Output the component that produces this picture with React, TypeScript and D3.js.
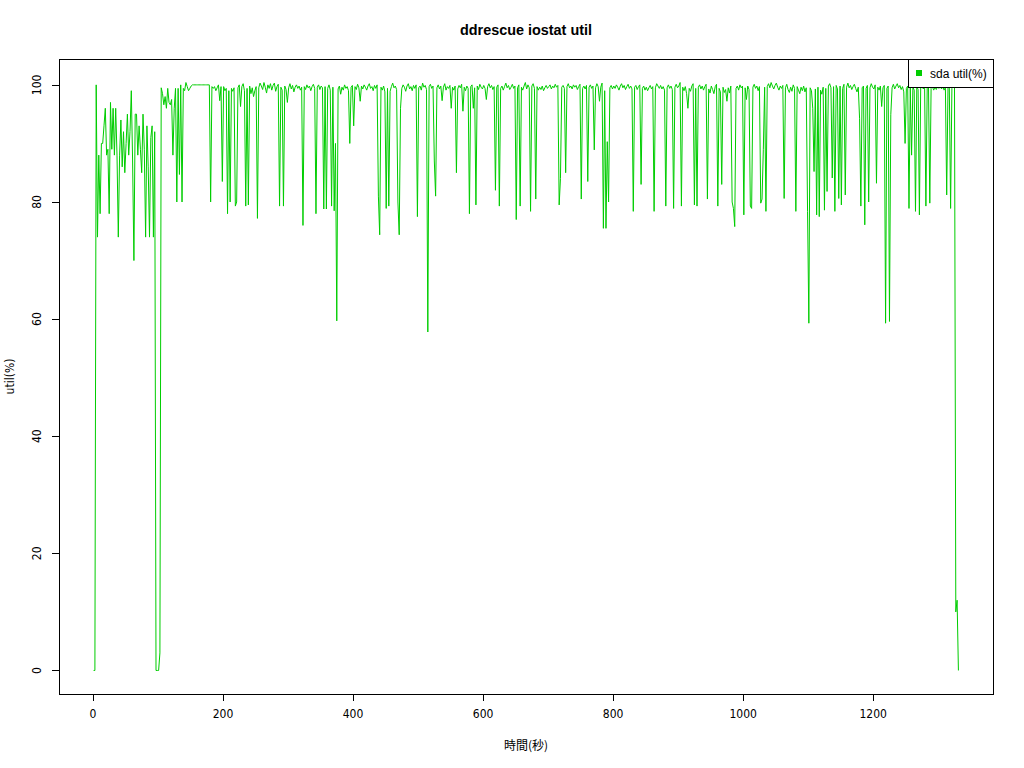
import React from 'react';
import * as d3 from 'd3';

const chartTitle = 'ddrescue iostat util';
const xAxisLabel = '時間(秒)';
const yAxisLabel = 'util(%)';
const legendLabel = 'sda util(%)';
const xTicks = [0, 200, 400, 600, 800, 1000, 1200];
const yTicks = [0, 20, 40, 60, 80, 100];
const firstSecond = 1;
const secondsPerSample = 2;

// util(%) samples, every 2 s, t = 1, 3, 5, ...
const util000 = [0, 0, 100, 74, 88, 78, 90, 90, 93, 96, 88, 89, 78, 97, 89, 96, 88, 96, 88, 74, 88, 94, 86, 92, 85, 90, 95, 88, 92, 99, 87, 70, 95, 95, 88, 93, 89, 85, 95, 89, 74, 93, 86, 74, 91, 93, 74, 92, 0, 0];
const util100 = [0, 3, 99.5, 98.5, 96.6, 98, 96, 99.4, 97, 96.6, 97.5, 88, 96, 99.4, 80, 99.4, 84.7, 100, 80, 99.4, 99, 100.4, 99.7, 99, 99.4, 99.8, 100, 100, 100, 100, 100, 100, 100, 100, 100, 100, 100, 100, 100, 100, 80, 99.7, 99.4, 99.7, 99, 99.5, 100, 97.3, 99.7, 83.5];
const util200 = [99.7, 99, 99.4, 78, 99, 80, 99.4, 98.9, 99.5, 79.3, 80, 99.5, 100, 96.3, 99.7, 100.2, 99, 79.3, 99.4, 79.5, 99.8, 98.5, 99.5, 98, 99, 99.7, 77.2, 99.5, 100.3, 99.8, 99.2, 100.4, 99.6, 98.6, 100, 99.4, 100.2, 99.1, 99.9, 100.3, 98.9, 99.7, 100.1, 79.3, 99.6, 99.1, 79.3, 99.8, 99.2, 97];
const util300 = [99.5, 100.2, 99.3, 99.9, 98.8, 99.6, 100, 99.4, 99.8, 99.1, 99.6, 76, 99.7, 99.2, 100, 99.5, 99.8, 99, 99.7, 100.1, 99.4, 78, 99.6, 100, 99.2, 99.8, 99.5, 78.8, 99.7, 78.8, 99.4, 100, 99.1, 79.3, 99.6, 78.5, 90, 59.7, 99.3, 99.8, 98.4, 99.6, 99.1, 100, 99.4, 99.7, 99, 90, 99.6, 99.9];
const util400 = [93, 99.7, 99.2, 100.1, 99.5, 97.2, 99.8, 99.3, 100, 99.6, 99.1, 99.8, 100.2, 99.4, 99.7, 99, 99.9, 99.4, 100, 81, 74.4, 99.6, 99.1, 99.8, 98.8, 78.9, 99.4, 79.3, 98.9, 99.7, 100.3, 99.5, 99.8, 99.2, 80, 74.4, 96, 99.4, 100, 99.6, 98.9, 99.8, 100.2, 99.3, 99.7, 99, 99.9, 99.4, 100, 77.5];
const util500 = [99.5, 99.8, 99.1, 100.3, 99.6, 99.9, 99.2, 57.8, 99.7, 100.1, 99.4, 99.8, 87, 81, 99.5, 100, 99.3, 99.8, 97.3, 99.6, 100.2, 99.1, 99.7, 99.4, 99.9, 96, 99.6, 99.1, 99.8, 85, 99.3, 99.9, 99.5, 100.1, 95.5, 99.6, 99, 99.8, 99.4, 78, 99.7, 100, 96, 99.5, 79.5, 99.8, 99.2, 100.1, 99.6, 99.3];
const util600 = [99.9, 99.4, 97.5, 99.7, 100.2, 99.5, 99.9, 99.2, 99.7, 82, 99.6, 100, 79.3, 99.4, 99.8, 99.1, 99.7, 100.3, 99.5, 99.9, 99.2, 99.6, 100.1, 99.4, 99.8, 77, 99.5, 100, 79.3, 99.6, 99.1, 99.8, 100.4, 99.3, 100, 99.5, 78.4, 99.8, 100.2, 99.4, 80.5, 99.7, 99.1, 99.6, 99.2, 99.8, 99, 99.5, 99.9, 99.4];
const util700 = [99.7, 100, 99.3, 99.8, 99.5, 100.1, 99.6, 99.9, 79.5, 84, 99.6, 99.9, 99.4, 85, 99.7, 100.2, 99.5, 99.8, 99.3, 100, 99.6, 99.9, 99.2, 99.7, 100.1, 80.5, 99.4, 99.8, 99.3, 99.9, 83.5, 99.6, 100, 99.4, 99.8, 88.9, 99.5, 100.2, 99.7, 97.2, 99.6, 100.3, 75.5, 99, 75.5, 90.3, 80, 99.5, 99.9, 99.3];
const util800 = [99.8, 99.4, 100, 99.6, 99.1, 99.8, 100.2, 99.5, 99.9, 99.2, 99.7, 100.1, 99.4, 99.8, 99.3, 78.4, 99.6, 99.9, 99.2, 99.7, 100, 83, 99.4, 99.8, 99.1, 99.6, 99, 99.5, 99.9, 99.3, 99.7, 78.4, 99.5, 100.2, 99.8, 99.4, 99.9, 99.3, 99.7, 99.1, 79.3, 99.5, 100, 99.4, 99.8, 99.2, 78.9, 99.6, 100.1, 99.5];
const util900 = [99.8, 100.4, 79.3, 99.6, 99, 99.7, 98.5, 96, 99.4, 98.9, 99.8, 100.2, 79.5, 99.4, 79.3, 99.6, 100, 99.3, 99.8, 99.1, 99.7, 100.1, 80.5, 99.3, 98.6, 99.8, 99.2, 98.5, 99.7, 100.1, 79.3, 99.4, 98.8, 83, 99.6, 98.7, 99.2, 97.2, 99.5, 98.6, 99.8, 80, 78.9, 75.8, 99.4, 99.8, 99.1, 100, 99.5, 99.8];
const util1000 = [77.8, 99.5, 97.5, 99.8, 99.2, 79.3, 78.9, 99.6, 100.1, 99.4, 99.8, 99, 99.7, 79.8, 80.5, 89, 99.6, 78.4, 99.7, 100.2, 99.5, 100.4, 99.8, 99.3, 99.9, 100.3, 99.6, 99.1, 99.8, 99.4, 99.9, 80.6, 99.5, 100.1, 99.2, 98.7, 99.6, 98.9, 100, 99.4, 78.4, 99.7, 99.1, 98.5, 99.6, 99, 99.8, 98.8, 99.5, 78.4];
const util1100 = [59.3, 99.5, 99, 96, 85.2, 99.3, 77.8, 99.6, 77.5, 99.1, 98.4, 99.6, 78.6, 99.4, 81.8, 99.8, 100.2, 99.5, 84.1, 99.7, 78.4, 99.9, 99.3, 80.6, 99.8, 79.5, 99.4, 100.1, 81.2, 99.6, 100.3, 99.5, 99.9, 99.2, 99.7, 100.1, 99.4, 98.8, 99.6, 94.3, 79.3, 99.5, 99.8, 76.1, 99.4, 99.9, 80, 99.5, 100.2, 99.6];
const util1200 = [99.3, 100, 83.2, 99.6, 99.1, 99.8, 96.3, 99.5, 99.9, 59.3, 99.4, 99.8, 59.6, 94.9, 99.5, 100.1, 99.3, 99.8, 100.2, 99.5, 99.9, 99.2, 99.7, 98.8, 90, 99.4, 99.8, 78.9, 99.5, 88, 99.6, 99.1, 78.4, 99.7, 99.2, 77.8, 99.6, 99.9, 99.3, 99.8, 79.3, 99.5, 99.9, 79.8, 99.4, 99.7, 99.1, 99.6, 99.2, 99.8];
const util1300 = [99.4, 99.9, 99.3, 99.7, 99.1, 99.6, 81.2, 99.5, 99.8, 78.9, 99.4, 99.7, 99.5, 10, 12, 0];

const utilValues = [
  ...util000, ...util100, ...util200, ...util300, ...util400, ...util500, ...util600,
  ...util700, ...util800, ...util900, ...util1000, ...util1100, ...util1200, ...util1300,
];
const seconds = utilValues.map((_, i) => firstSecond + i * secondsPerSample);

const W = 1024;
const H = 768;
const plot = { left: 59, right: 993, top: 59, bottom: 694 };
const lineColor = '#00CD00';
const tickFont = "'Liberation Sans Narrow', 'DejaVu Sans Condensed', sans-serif";

function padded(ext: [number, number]): [number, number] {
  const r = ext[1] - ext[0];
  return [ext[0] - 0.04 * r, ext[1] + 0.04 * r];
}

export default function App() {
  const xExt = d3.extent(seconds) as [number, number];
  const yExt = d3.extent(utilValues) as [number, number];
  const x = d3.scaleLinear().domain(padded(xExt)).range([plot.left, plot.right]);
  const y = d3.scaleLinear().domain(padded(yExt)).range([plot.bottom, plot.top]);
  const pts = seconds.map((s, i) => [s, utilValues[i]] as [number, number]);
  const line = d3
    .line<[number, number]>()
    .x((d) => x(d[0]))
    .y((d) => y(d[1]));
  const cx = (plot.left + plot.right) / 2;
  const cy = (plot.top + plot.bottom) / 2;
  const legend = { x: 908, y: 59, w: 85, h: 28 };

  return (
    <svg
      width={W}
      height={H}
      viewBox={`0 0 ${W} ${H}`}
      style={{ position: 'absolute', left: 0, top: 0, background: '#fff' }}
    >
      <rect x={0} y={0} width={W} height={H} fill="#fff" />
      <defs>
        <clipPath id="plotclip">
          <rect x={plot.left} y={plot.top} width={plot.right - plot.left} height={plot.bottom - plot.top} />
        </clipPath>
      </defs>
      <path d={line(pts) || ''} fill="none" stroke={lineColor} strokeWidth={1} clipPath="url(#plotclip)" />
      <rect
        x={plot.left + 0.5}
        y={plot.top + 0.5}
        width={plot.right - plot.left}
        height={plot.bottom - plot.top}
        fill="none"
        stroke="#000"
        strokeWidth={1}
      />
      {/* x axis */}
      <line x1={x(xTicks[0])} x2={x(xTicks[xTicks.length - 1])} y1={plot.bottom + 0.5} y2={plot.bottom + 0.5} stroke="#000" />
      {xTicks.map((t) => (
        <g key={`xt${t}`}>
          <line x1={Math.round(x(t)) + 0.5} x2={Math.round(x(t)) + 0.5} y1={plot.bottom} y2={plot.bottom + 7} stroke="#000" />
          <text x={x(t)} y={714} textAnchor="middle" dominantBaseline="central" fontFamily={tickFont} fontSize={12}>
            {t}
          </text>
        </g>
      ))}
      {/* y axis */}
      <line x1={plot.left + 0.5} x2={plot.left + 0.5} y1={y(yTicks[0])} y2={y(yTicks[yTicks.length - 1])} stroke="#000" />
      {yTicks.map((t) => (
        <g key={`yt${t}`}>
          <line x1={plot.left - 7} x2={plot.left} y1={Math.round(y(t)) + 0.5} y2={Math.round(y(t)) + 0.5} stroke="#000" />
          <text
            transform={`translate(37,${y(t)}) rotate(-90)`}
            textAnchor="middle"
            dominantBaseline="central"
            fontFamily={tickFont}
            fontSize={12}
          >
            {t}
          </text>
        </g>
      ))}
      <text x={cx} y={30} textAnchor="middle" dominantBaseline="central" fontFamily="'Liberation Sans', Arial, sans-serif" fontWeight="bold" fontSize={14.4}>
        {chartTitle}
      </text>
      <text x={cx} y={744} textAnchor="middle" dominantBaseline="central" fontFamily="'Noto Sans CJK JP', sans-serif" fontSize={12}>
        {xAxisLabel}
      </text>
      <text
        transform={`translate(10,${cy}) rotate(-90)`}
        textAnchor="middle"
        dominantBaseline="central"
        fontFamily={tickFont}
        fontSize={12}
      >
        {yAxisLabel}
      </text>
      {/* legend */}
      <rect x={legend.x + 0.5} y={legend.y + 0.5} width={legend.w} height={legend.h} fill="#fff" stroke="#000" strokeWidth={1} />
      <rect x={916} y={70} width={6} height={6} fill={lineColor} />
      <text x={930} y={73.5} dominantBaseline="central" fontFamily="'Liberation Sans', Arial, sans-serif" fontSize={12}>
        {legendLabel}
      </text>
    </svg>
  );
}
